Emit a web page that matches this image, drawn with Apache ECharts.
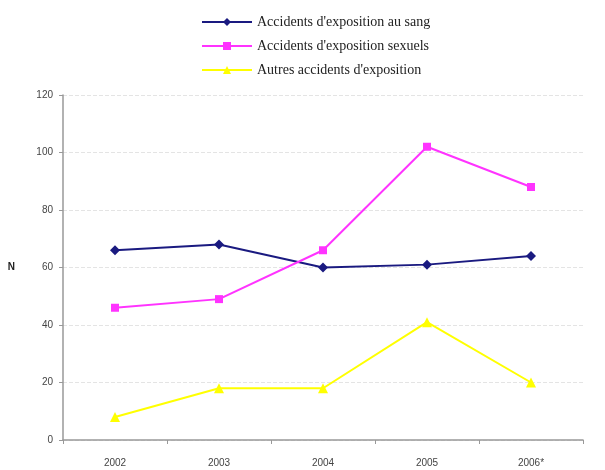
<!DOCTYPE html>
<html>
<head>
<meta charset="utf-8">
<script src="https://cdn.jsdelivr.net/npm/echarts@6/dist/echarts.min.js"></script>
<style>
  html, body { margin: 0; padding: 0; background: #fff; }
  #chart { width: 605px; height: 470px; }
</style>
</head>
<body>
<div id="chart"></div>
<script>
// données
const years = ["2002", "2003", "2004", "2005", "2006*"];
const sang = [66, 68, 60, 61, 64];
const sexuels = [46, 49, 66, 102, 88];
const autres = [8, 18, 18, 41, 20];
const yTicks = { min: 0, max: 120, interval: 20 };

const chart = echarts.init(document.getElementById("chart"));

function lineSerie(name, data, color, symbol, size) {
  return {
    name: name,
    type: "line",
    data: data,
    symbol: symbol,
    symbolSize: size,
    lineStyle: { color: color, width: 2 },
    itemStyle: { color: color },
    emphasis: { disabled: true },
  };
}

chart.setOption({
  animation: false,
  textStyle: { fontFamily: "Liberation Sans, Arial, sans-serif" },
  legend: {
    orient: "vertical",
    left: 196,
    top: 10,
    itemGap: 10,
    itemWidth: 50,
    itemHeight: 10,
    textStyle: {
      fontFamily: "Liberation Serif, Times New Roman, serif",
      fontSize: 14,
      color: "#222",
    },
  },
  grid: { left: 63, right: 22, top: 95, bottom: 30 },
  xAxis: {
    type: "category",
    data: years,
    boundaryGap: true,
    axisLine: { lineStyle: { color: "#999", width: 1.5 } },
    axisTick: { show: true, length: 4, lineStyle: { color: "#999" } },
    axisLabel: { color: "#444", fontSize: 10, margin: 18 },
  },
  yAxis: {
    type: "value",
    min: yTicks.min,
    max: yTicks.max,
    interval: yTicks.interval,
    name: "N",
    nameLocation: "middle",
    nameRotate: 0,
    nameGap: 48,
    nameTextStyle: { color: "#222", fontSize: 10, fontWeight: "bold" },
    axisLine: { show: true, lineStyle: { color: "#999", width: 1.5 } },
    axisTick: { show: true, length: 4, lineStyle: { color: "#999" } },
    axisLabel: { color: "#444", fontSize: 10, margin: 10 },
    splitLine: { lineStyle: { color: "#e4e4e4", type: "dashed" } },
  },
  series: [
    lineSerie("Accidents d'exposition au sang", sang, "#1a1a80", "diamond", 10),
    lineSerie("Accidents d'exposition sexuels", sexuels, "#ff33ff", "rect", 8),
    lineSerie("Autres accidents d'exposition", autres, "#ffff00", "triangle", 10),
  ],
});
</script>
</body>
</html>
